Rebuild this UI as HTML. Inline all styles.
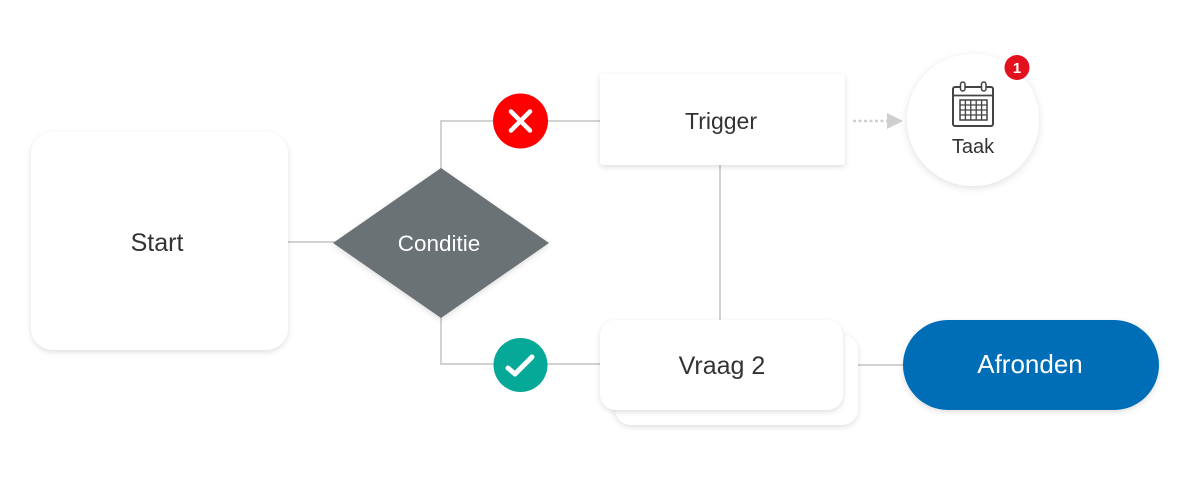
<!DOCTYPE html>
<html>
<head>
<meta charset="utf-8">
<style>
  html, body { margin:0; padding:0; background:#ffffff; }
  body { width:1200px; height:485px; overflow:hidden; position:relative; }
  svg { position:absolute; left:0; top:0; }
  text { font-family: "Liberation Sans", "DejaVu Sans", sans-serif; }
</style>
</head>
<body>
<svg width="1200" height="485" viewBox="0 0 1200 485" xmlns="http://www.w3.org/2000/svg">
  <defs>
    <filter id="sh" x="-20%" y="-20%" width="140%" height="150%">
      <feDropShadow dx="0" dy="2" stdDeviation="3" flood-color="#000" flood-opacity="0.13"/>
    </filter>
    <filter id="sh2" x="-20%" y="-20%" width="140%" height="150%">
      <feDropShadow dx="0" dy="2" stdDeviation="4" flood-color="#000" flood-opacity="0.12"/>
    </filter>
  </defs>

  <!-- connectors -->
  <g stroke="#d2d2d2" stroke-width="2" fill="none">
    <line x1="288" y1="242" x2="335" y2="242"/>
    <polyline points="441,170 441,121 600,121"/>
    <polyline points="441,316 441,364 600,364"/>
    <line x1="720" y1="165" x2="720" y2="321"/>
    <line x1="858" y1="365" x2="904" y2="365"/>
  </g>

  <!-- dotted arrow -->
  <line x1="853" y1="121" x2="887" y2="121" stroke="#cfcfcf" stroke-width="2.5" stroke-dasharray="3,2.5"/>
  <polygon points="887,113 903,121 887,129" fill="#cfcfcf"/>

  <!-- Start box -->
  <rect x="31" y="132" width="257" height="218" rx="22" fill="#ffffff" filter="url(#sh)"/>
  <text x="157" y="251" font-size="25" fill="#333" text-anchor="middle">Start</text>

  <!-- Diamond -->
  <polygon points="333,243 441,168 549,243 441,318" fill="#6b7276" filter="url(#sh)"/>
  <text x="439" y="251" font-size="22.5" fill="#ffffff" text-anchor="middle">Conditie</text>

  <!-- Red X circle -->
  <circle cx="520.5" cy="121" r="27.5" fill="#fe0000"/>
  <g stroke="#ffffff" stroke-width="4.5" stroke-linecap="round">
    <line x1="511" y1="111.5" x2="530" y2="130.5"/>
    <line x1="530" y1="111.5" x2="511" y2="130.5"/>
  </g>

  <!-- Green check circle -->
  <circle cx="520.5" cy="365" r="27" fill="#06a898"/>
  <polyline points="508,368 515,374 532,357" fill="none" stroke="#ffffff" stroke-width="5" stroke-linecap="round" stroke-linejoin="round"/>

  <!-- Trigger box -->
  <rect x="600" y="74" width="245" height="91" rx="3" fill="#ffffff" filter="url(#sh)"/>
  <text x="721" y="129" font-size="23" fill="#333" text-anchor="middle">Trigger</text>

  <!-- Taak circle -->
  <circle cx="973" cy="120" r="66" fill="#ffffff" filter="url(#sh2)"/>
  <!-- calendar icon -->
  <g stroke="#444" fill="none">
    <rect x="953" y="87" width="40" height="39" rx="2" stroke-width="2"/>
    <line x1="953" y1="95.5" x2="993" y2="95.5" stroke-width="1.8"/>
    <rect x="960" y="100" width="27" height="20" stroke-width="1.5"/>
    <line x1="965.4" y1="100" x2="965.4" y2="120" stroke-width="1.3"/>
    <line x1="970.8" y1="100" x2="970.8" y2="120" stroke-width="1.3"/>
    <line x1="976.2" y1="100" x2="976.2" y2="120" stroke-width="1.3"/>
    <line x1="981.6" y1="100" x2="981.6" y2="120" stroke-width="1.3"/>
    <line x1="960" y1="105" x2="987" y2="105" stroke-width="1.3"/>
    <line x1="960" y1="110" x2="987" y2="110" stroke-width="1.3"/>
    <line x1="960" y1="115" x2="987" y2="115" stroke-width="1.3"/>
  </g>
  <rect x="960.5" y="82" width="4.5" height="9" rx="2.2" fill="#ffffff" stroke="#444" stroke-width="1.5"/>
  <rect x="981.5" y="82" width="4.5" height="9" rx="2.2" fill="#ffffff" stroke="#444" stroke-width="1.5"/>
  <text x="973" y="153" font-size="20" fill="#333" text-anchor="middle">Taak</text>

  <!-- badge -->
  <circle cx="1017" cy="67.5" r="12.5" fill="#e3101e"/>
  <text x="1017" y="73" font-size="15" font-weight="bold" fill="#ffffff" text-anchor="middle">1</text>

  <!-- Vraag 2 stacked cards -->
  <rect x="615" y="335" width="243" height="90" rx="16" fill="#ffffff" filter="url(#sh)"/>
  <rect x="600" y="320" width="243" height="90" rx="16" fill="#ffffff" filter="url(#sh)"/>
  <text x="722" y="374" font-size="25" fill="#333" text-anchor="middle">Vraag 2</text>

  <!-- Afronden pill -->
  <rect x="903" y="320" width="256" height="90" rx="45" fill="#006db7" filter="url(#sh)"/>
  <text x="1030" y="373" font-size="26" fill="#ffffff" text-anchor="middle">Afronden</text>
</svg>
</body>
</html>
